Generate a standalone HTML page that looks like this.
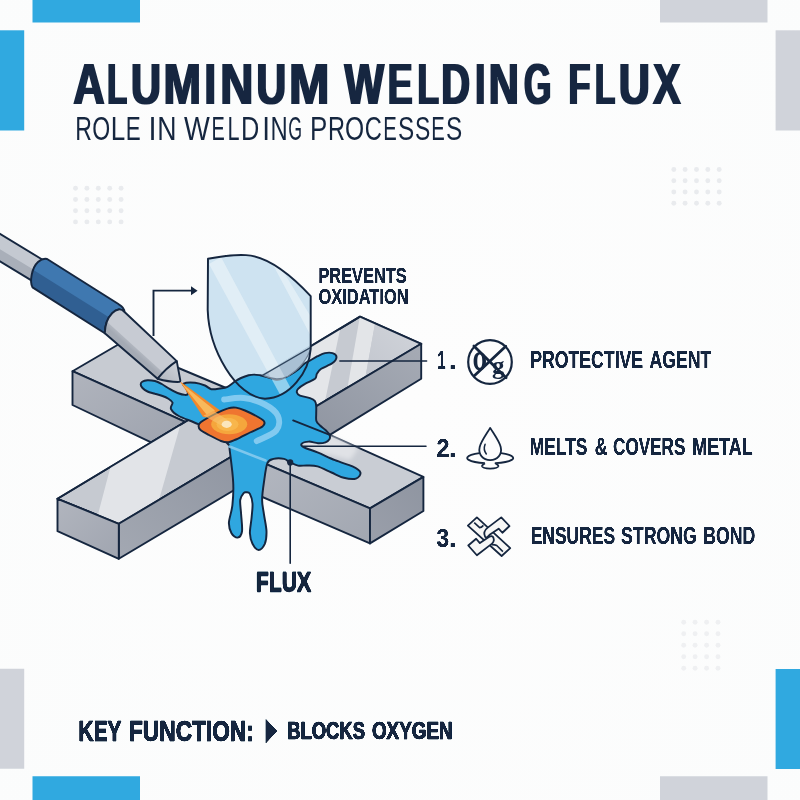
<!DOCTYPE html>
<html>
<head>
<meta charset="utf-8">
<title>Aluminum Welding Flux</title>
<style>
html,body{margin:0;padding:0;width:800px;height:800px;overflow:hidden;background:#fcfcfd;}
svg{position:absolute;left:0;top:0;display:block;will-change:transform;}
text{font-family:"Liberation Sans",sans-serif;fill:#15263f;}
.b{font-weight:bold;}
</style>
</head>
<body>
<svg width="800" height="800" viewBox="0 0 800 800">
<defs>
<filter id="fSemi" x="-2%" y="-2%" width="104%" height="104%"><feGaussianBlur stdDeviation="0.55 0"/><feComponentTransfer><feFuncA type="linear" slope="2.6" intercept="-0.3"/></feComponentTransfer></filter>
<filter id="fBold" x="-2%" y="-10%" width="104%" height="120%"><feMorphology operator="dilate" radius="1 0"/></filter>
<radialGradient id="bg" cx="50%" cy="50%" r="75%">
<stop offset="0" stop-color="#fdfdfd"/>
<stop offset="1" stop-color="#fbfcfc"/>
</radialGradient>
<!--ILLDEFS-->
<filter id="fSoft" x="-20%" y="-20%" width="140%" height="140%"><feGaussianBlur stdDeviation="2"/></filter>
<linearGradient id="gTopR" x1="0" y1="1" x2="1" y2="0"><stop offset="0" stop-color="#c2c6ce"/><stop offset="1" stop-color="#d2d5db"/></linearGradient>
<linearGradient id="gF1a" x1="0" y1="1" x2="1" y2="0"><stop offset="0" stop-color="#a3a8b2"/><stop offset="1" stop-color="#8f95a1"/></linearGradient>
<linearGradient id="gF1b" x1="0" y1="1" x2="1" y2="0"><stop offset="0" stop-color="#8e94a0"/><stop offset="1" stop-color="#a6abb5"/></linearGradient>
<linearGradient id="gF2" x1="0" y1="0" x2="1" y2="1"><stop offset="0" stop-color="#b0b4bd"/><stop offset="1" stop-color="#9ea3ae"/></linearGradient>
<linearGradient id="gF3" x1="0" y1="0" x2="1" y2="1"><stop offset="0" stop-color="#b4b8c1"/><stop offset="1" stop-color="#a2a7b1"/></linearGradient>
<linearGradient id="gEnd1" x1="0" y1="0" x2="1" y2="1"><stop offset="0" stop-color="#b1b5be"/><stop offset="1" stop-color="#a0a5b0"/></linearGradient>
<linearGradient id="gEnd2" x1="0" y1="1" x2="1" y2="0"><stop offset="0" stop-color="#9a9faa"/><stop offset="1" stop-color="#8f95a1"/></linearGradient>

<clipPath id="cTop1"><polygon points="57.5,498.75 118.75,523.75 421.25,343.75 360,316.6"/></clipPath>
<radialGradient id="gSpot" cx="229" cy="424.5" r="18" gradientUnits="userSpaceOnUse" gradientTransform="translate(229 424.5) scale(1 0.58) translate(-229 -424.5)"><stop offset="0" stop-color="#f7b548"/><stop offset="0.85" stop-color="#f5a23a"/><stop offset="1" stop-color="#f0762e"/></radialGradient>
<linearGradient id="gRodL" x1="0" y1="0" x2="1" y2="0"><stop offset="0" stop-color="#c3c8d0"/><stop offset="1" stop-color="#cdd1d8"/></linearGradient>
<clipPath id="cRod"><path d="M124.3 311.8 C118 304 105 316 104.8 333.2 L157.6 378.75 L176.75 361.1 Z"/></clipPath>
<linearGradient id="gRodD" gradientUnits="userSpaceOnUse" x1="134" y1="342" x2="129" y2="347.5"><stop offset="0" stop-color="#c7cbd3"/><stop offset="0.35" stop-color="#b3b8c1"/><stop offset="1" stop-color="#a4aab4"/></linearGradient>
<linearGradient id="gCone" gradientUnits="userSpaceOnUse" x1="176" y1="366" x2="164" y2="381"><stop offset="0" stop-color="#cbcfd6"/><stop offset="1" stop-color="#b4b9c2"/></linearGradient>
<clipPath id="cSh"><path d="M208 258.8 C222 256 236 254.6 246 255.1 C268 256.5 290 274 310.7 296.2 L310.7 349 C309 372 290 398 265 398.8 C236 397 209 350 207.7 310 Z"/></clipPath>
<clipPath id="cRim"><path d="M262.5 375.4 L312 346.6 L311 347.5 C307 362 298 370 288 376.2 C280 380 272 379.5 263.75 375.6 Z"/></clipPath>
<!--/ILLDEFS-->
</defs>
<rect width="800" height="800" fill="url(#bg)"/>

<!-- corner blocks -->
<g id="corners">
<rect x="32.5" y="0" width="107.5" height="22.5" fill="#30a9e0"/>
<rect x="0" y="30.3" width="24.2" height="100.2" fill="#30a9e0"/>
<rect x="660" y="0" width="107.5" height="22.5" fill="#d0d3da"/>
<rect x="775.6" y="30.3" width="24.4" height="100.2" fill="#d0d3da"/>
<rect x="0" y="668.75" width="24.2" height="100" fill="#d0d3da"/>
<rect x="32.5" y="776.25" width="107.5" height="23.75" fill="#30a9e0"/>
<rect x="775.6" y="669" width="24.4" height="100" fill="#30a9e0"/>
<rect x="660" y="776.25" width="107.5" height="23.75" fill="#d0d3da"/>
</g>

<!-- dot grids -->
<g id="dots">
<circle cx="75.5" cy="188.3" r="2.45" fill="#e9ebee"/>
<circle cx="86.9" cy="188.3" r="2.45" fill="#e9ebee"/>
<circle cx="98.3" cy="188.3" r="2.45" fill="#e9ebee"/>
<circle cx="109.7" cy="188.3" r="2.45" fill="#e9ebee"/>
<circle cx="121.1" cy="188.3" r="2.45" fill="#e9ebee"/>
<circle cx="75.5" cy="199.5" r="2.45" fill="#e9ebee"/>
<circle cx="86.9" cy="199.5" r="2.45" fill="#e9ebee"/>
<circle cx="98.3" cy="199.5" r="2.45" fill="#e9ebee"/>
<circle cx="109.7" cy="199.5" r="2.45" fill="#e9ebee"/>
<circle cx="121.1" cy="199.5" r="2.45" fill="#e9ebee"/>
<circle cx="75.5" cy="210.7" r="2.45" fill="#e9ebee"/>
<circle cx="86.9" cy="210.7" r="2.45" fill="#e9ebee"/>
<circle cx="98.3" cy="210.7" r="2.45" fill="#e9ebee"/>
<circle cx="109.7" cy="210.7" r="2.45" fill="#e9ebee"/>
<circle cx="121.1" cy="210.7" r="2.45" fill="#e9ebee"/>
<circle cx="75.5" cy="221.9" r="2.45" fill="#e9ebee"/>
<circle cx="86.9" cy="221.9" r="2.45" fill="#e9ebee"/>
<circle cx="98.3" cy="221.9" r="2.45" fill="#e9ebee"/>
<circle cx="109.7" cy="221.9" r="2.45" fill="#e9ebee"/>
<circle cx="121.1" cy="221.9" r="2.45" fill="#e9ebee"/>
<circle cx="673.8" cy="169.5" r="2.45" fill="#e9ebee"/>
<circle cx="685.1" cy="169.5" r="2.45" fill="#e9ebee"/>
<circle cx="696.5" cy="169.5" r="2.45" fill="#e9ebee"/>
<circle cx="707.8" cy="169.5" r="2.45" fill="#e9ebee"/>
<circle cx="719.2" cy="169.5" r="2.45" fill="#e9ebee"/>
<circle cx="673.8" cy="180.8" r="2.45" fill="#e9ebee"/>
<circle cx="685.1" cy="180.8" r="2.45" fill="#e9ebee"/>
<circle cx="696.5" cy="180.8" r="2.45" fill="#e9ebee"/>
<circle cx="707.8" cy="180.8" r="2.45" fill="#e9ebee"/>
<circle cx="719.2" cy="180.8" r="2.45" fill="#e9ebee"/>
<circle cx="673.8" cy="192.0" r="2.45" fill="#e9ebee"/>
<circle cx="685.1" cy="192.0" r="2.45" fill="#e9ebee"/>
<circle cx="696.5" cy="192.0" r="2.45" fill="#e9ebee"/>
<circle cx="707.8" cy="192.0" r="2.45" fill="#e9ebee"/>
<circle cx="719.2" cy="192.0" r="2.45" fill="#e9ebee"/>
<circle cx="673.8" cy="203.3" r="2.45" fill="#e9ebee"/>
<circle cx="685.1" cy="203.3" r="2.45" fill="#e9ebee"/>
<circle cx="696.5" cy="203.3" r="2.45" fill="#e9ebee"/>
<circle cx="707.8" cy="203.3" r="2.45" fill="#e9ebee"/>
<circle cx="719.2" cy="203.3" r="2.45" fill="#e9ebee"/>
<circle cx="683.7" cy="622.2" r="2.45" fill="#eff0f2"/>
<circle cx="695.1" cy="622.2" r="2.45" fill="#eff0f2"/>
<circle cx="706.6" cy="622.2" r="2.45" fill="#eff0f2"/>
<circle cx="718.0" cy="622.2" r="2.45" fill="#eff0f2"/>
<circle cx="683.7" cy="633.7" r="2.45" fill="#eff0f2"/>
<circle cx="695.1" cy="633.7" r="2.45" fill="#eff0f2"/>
<circle cx="706.6" cy="633.7" r="2.45" fill="#eff0f2"/>
<circle cx="718.0" cy="633.7" r="2.45" fill="#eff0f2"/>
<circle cx="683.7" cy="645.2" r="2.45" fill="#eff0f2"/>
<circle cx="695.1" cy="645.2" r="2.45" fill="#eff0f2"/>
<circle cx="706.6" cy="645.2" r="2.45" fill="#eff0f2"/>
<circle cx="718.0" cy="645.2" r="2.45" fill="#eff0f2"/>
<circle cx="683.7" cy="656.7" r="2.45" fill="#eff0f2"/>
<circle cx="695.1" cy="656.7" r="2.45" fill="#eff0f2"/>
<circle cx="706.6" cy="656.7" r="2.45" fill="#eff0f2"/>
<circle cx="718.0" cy="656.7" r="2.45" fill="#eff0f2"/>
<circle cx="683.7" cy="668.2" r="2.45" fill="#eff0f2"/>
<circle cx="695.1" cy="668.2" r="2.45" fill="#eff0f2"/>
<circle cx="706.6" cy="668.2" r="2.45" fill="#eff0f2"/>
<circle cx="718.0" cy="668.2" r="2.45" fill="#eff0f2"/>
</g>

<!-- title -->
<g id="title">
<g filter="url(#fBold)">
<text class="b" font-size="57.3" transform="translate(73.32 103.75) scale(0.7596 1)">A</text>
<text class="b" font-size="57.3" transform="translate(107.34 103.75) scale(0.5645 1)">L</text>
<text class="b" font-size="57.3" transform="translate(130.91 103.75) scale(0.7244 1)">U</text>
<text class="b" font-size="57.3" transform="translate(163.39 103.75) scale(0.7850 1)">M</text>
<text class="b" font-size="57.3" transform="translate(204.39 103.75) scale(0.7209 1)">I</text>
<text class="b" font-size="57.3" transform="translate(220.33 103.75) scale(0.8000 1)">N</text>
<text class="b" font-size="57.3" transform="translate(256.43 103.75) scale(0.7172 1)">U</text>
<text class="b" font-size="57.3" transform="translate(288.90 103.75) scale(0.8474 1)">M</text>
<text class="b" font-size="57.3" transform="translate(344.61 103.75) scale(0.7310 1)">W</text>
<text class="b" font-size="57.3" transform="translate(387.71 103.75) scale(0.6501 1)">E</text>
<text class="b" font-size="57.3" transform="translate(417.55 103.75) scale(0.6121 1)">L</text>
<text class="b" font-size="57.3" transform="translate(441.23 103.75) scale(0.6958 1)">D</text>
<text class="b" font-size="57.3" transform="translate(475.24 103.75) scale(0.6300 1)">I</text>
<text class="b" font-size="57.3" transform="translate(488.81 103.75) scale(0.7273 1)">N</text>
<text class="b" font-size="57.3" transform="translate(523.96 103.75) scale(0.6129 1)">G</text>
<text class="b" font-size="57.3" transform="translate(568.50 103.75) scale(0.6261 1)">F</text>
<text class="b" font-size="57.3" transform="translate(594.94 103.75) scale(0.5764 1)">L</text>
<text class="b" font-size="57.3" transform="translate(618.81 103.75) scale(0.7535 1)">U</text>
<text class="b" font-size="57.3" transform="translate(653.04 103.75) scale(0.7242 1)">X</text>
</g>
<text font-size="32.5" transform="translate(75.21 139.7) scale(0.7100 1)">R</text>
<text font-size="32.5" transform="translate(92.16 139.7) scale(0.7099 1)">O</text>
<text font-size="32.5" transform="translate(110.76 139.7) scale(0.8025 1)">L</text>
<text font-size="32.5" transform="translate(125.76 139.7) scale(0.6898 1)">E</text>
<text font-size="32.5" transform="translate(148.53 139.7) scale(0.8908 1)">I</text>
<text font-size="32.5" transform="translate(157.31 139.7) scale(0.8207 1)">N</text>
<text font-size="32.5" transform="translate(184.08 139.7) scale(0.8415 1)">W</text>
<text font-size="32.5" transform="translate(211.57 139.7) scale(0.6131 1)">E</text>
<text font-size="32.5" transform="translate(227.42 139.7) scale(0.6664 1)">L</text>
<text font-size="32.5" transform="translate(241.12 139.7) scale(0.7793 1)">D</text>
<text font-size="32.5" transform="translate(262.23 139.7) scale(0.8578 1)">I</text>
<text font-size="32.5" transform="translate(270.55 139.7) scale(0.7326 1)">N</text>
<text font-size="32.5" transform="translate(288.31 139.7) scale(0.5467 1)">G</text>
<text font-size="32.5" transform="translate(310.07 139.7) scale(0.7978 1)">P</text>
<text font-size="32.5" transform="translate(328.07 139.7) scale(0.7255 1)">R</text>
<text font-size="32.5" transform="translate(345.03 139.7) scale(0.7573 1)">O</text>
<text font-size="32.5" transform="translate(364.80 139.7) scale(0.7288 1)">C</text>
<text font-size="32.5" transform="translate(383.34 139.7) scale(0.6245 1)">E</text>
<text font-size="32.5" transform="translate(397.90 139.7) scale(0.7483 1)">S</text>
<text font-size="32.5" transform="translate(414.96 139.7) scale(0.7055 1)">S</text>
<text font-size="32.5" transform="translate(431.34 139.7) scale(0.6245 1)">E</text>
<text font-size="32.5" transform="translate(445.90 139.7) scale(0.7483 1)">S</text>
</g>

<!-- illustration -->
<g id="illus">
<polygon points="72.5,371.2 120.0,343.5 250.0,398.0 185.2,421.9" fill="#c7cbd2" stroke="#15263f" stroke-width="1.9" stroke-linejoin="round"/>
<polygon points="72.5,371.2 185.2,421.9 151.1,442.4 72.5,405.0" fill="url(#gF2)" stroke="#15263f" stroke-width="1.9" stroke-linejoin="round"/>
<polygon points="240.0,453.0 370.0,508.4 423.4,476.9 329.8,434.9 270.0,410.0" fill="#c9cdd4" stroke="#15263f" stroke-width="1.9" stroke-linejoin="round"/>
<polygon points="296.0,440.0 333.0,436.5 358.0,449.0 350.0,460.0 318.0,452.0" fill="#e0e2e6" filter="url(#fSoft)"/>
<polygon points="245.0,455.0 370.0,508.4 370.0,543.4 245.0,489.5" fill="url(#gF3)" stroke="#15263f" stroke-width="1.9" stroke-linejoin="round"/>
<polygon points="370.0,508.4 423.4,476.9 423.4,511.0 370.0,543.4" fill="url(#gEnd2)" stroke="#15263f" stroke-width="1.9" stroke-linejoin="round"/>
<polygon points="57.5,498.8 118.8,523.8 421.2,343.8 360.0,316.6" fill="#c6cad1" stroke="#15263f" stroke-width="1.9" stroke-linejoin="round"/>
<g clip-path="url(#cTop1)">
<polygon points="111.5,463.0 181.5,421.0 155.0,514.0 150.0,545.0 92.0,545.0 96.0,522.0" fill="#e2e4e8"/>
<polygon points="255.0,372.0 341.2,324.0 324.4,404.0 255.0,440.0" fill="#e4e6e9"/>
<polygon points="360.3,314.0 375.2,322.5 365.0,379.5 347.1,390.0" fill="#e3e5e8"/>
<polygon points="375.2,322.5 424.0,343.0 424.0,346.0 365.0,379.5" fill="url(#gTopR)"/>
</g>
<polygon points="57.5,498.8 118.8,523.8 421.2,343.8 360.0,316.6" fill="none" stroke="#15263f" stroke-width="1.9" stroke-linejoin="round"/>
<polygon points="118.8,523.8 246.0,448.0 246.0,483.0 118.8,558.8" fill="url(#gF1a)" stroke="#15263f" stroke-width="1.9" stroke-linejoin="round"/>
<polygon points="300.0,415.9 421.2,343.8 421.2,378.8 329.8,434.9 322.0,439.5 300.0,440.0" fill="url(#gF1b)" stroke="#15263f" stroke-width="1.9" stroke-linejoin="round"/>
<polygon points="57.5,498.8 118.8,523.8 118.8,558.8 57.5,531.2" fill="url(#gEnd1)" stroke="#15263f" stroke-width="1.9" stroke-linejoin="round"/>
<path d="M208 258.8 C222 256 236 254.6 246 255.1 C268 256.5 290 274 310.7 296.2 L310.7 349 C309 372 290 398 265 398.8 C236 397 209 350 207.7 310 Z" fill="#c9e0f0" fill-opacity="0.9"/>
<path d="M140.7 384.5 C140.7 383.5 141.1 382.5 142.2 381.8 C143.4 381.0 145.4 380.4 147.5 380.2 C149.6 380.1 152.6 380.4 155.0 381.0 C157.4 381.6 159.2 382.6 161.8 384.0 C164.2 385.4 167.4 387.8 170.0 389.2 C172.6 390.8 175.0 392.1 177.5 393.0 C180.0 393.9 183.2 394.8 185.0 394.9 C186.8 395.0 187.8 394.6 188.0 393.5 C188.2 392.4 186.7 389.6 186.0 388.0 C185.3 386.4 182.1 384.5 183.6 383.6 C185.1 382.7 191.4 382.4 195.0 382.7 C198.6 383.0 202.3 384.4 205.0 385.5 C207.7 386.6 208.8 388.7 211.3 389.2 C213.8 389.7 217.3 388.9 220.0 388.5 C222.7 388.1 224.9 388.1 227.5 386.8 C230.1 385.6 233.3 382.5 235.6 381.0 C237.8 379.5 238.8 379.0 241.0 378.0 C243.2 377.0 246.4 375.8 248.6 375.2 C250.8 374.7 252.1 374.6 254.0 374.6 C255.9 374.6 257.9 374.9 260.0 375.2 C262.1 375.6 264.0 376.2 266.5 376.9 C269.0 377.6 272.5 379.1 275.0 379.5 C277.5 379.9 278.8 379.8 281.2 379.0 C283.8 378.2 287.3 376.5 290.0 375.0 C292.7 373.5 295.2 371.8 297.5 370.0 C299.8 368.2 302.1 365.5 304.0 364.0 C305.9 362.5 306.5 362.5 308.8 361.2 C311.0 360.0 314.8 357.6 317.5 356.2 C320.2 354.9 322.5 353.6 325.0 353.1 C327.5 352.6 330.6 352.5 332.5 353.1 C334.4 353.7 336.5 355.2 336.5 356.9 C336.5 358.6 335.0 361.1 332.5 363.1 C330.0 365.1 323.9 367.0 321.2 368.8 C318.6 370.5 317.9 372.1 316.9 373.8 C315.9 375.4 317.0 377.1 315.0 378.8 C313.0 380.4 307.8 382.1 305.0 383.8 C302.2 385.4 299.5 387.3 298.1 388.8 C296.8 390.2 296.6 391.4 296.9 392.5 C297.2 393.6 297.8 394.7 300.0 395.6 C302.2 396.5 307.5 397.2 310.0 398.1 C312.5 399.0 314.0 399.9 315.0 401.2 C316.0 402.6 316.1 404.1 316.2 406.2 C316.4 408.4 316.2 411.5 316.2 414.0 C316.2 416.5 315.8 419.1 316.4 421.0 C317.0 422.9 318.5 424.0 320.0 425.5 C321.5 427.0 323.9 428.4 325.5 430.0 C327.1 431.6 329.0 433.5 329.6 435.0 C330.2 436.5 330.1 438.0 329.4 439.2 C328.7 440.4 327.4 441.6 325.5 442.3 C323.6 443.0 320.8 443.3 318.0 443.2 C315.2 443.1 311.5 441.5 308.8 441.6 C306.0 441.7 302.6 442.7 301.8 443.6 C300.9 444.5 300.9 445.6 303.5 447.1 C306.1 448.6 312.2 450.2 317.5 452.4 C322.8 454.6 329.2 457.9 335.0 460.2 C340.8 462.6 348.3 464.4 352.5 466.4 C356.7 468.4 359.8 470.5 360.4 472.5 C361.0 474.5 358.8 477.7 356.0 478.6 C353.2 479.5 347.8 478.8 343.8 477.8 C339.7 476.7 335.9 474.4 331.5 472.5 C327.1 470.6 321.6 467.6 317.5 466.4 C313.4 465.2 310.2 465.6 307.0 465.5 C303.8 465.4 300.8 466.1 298.0 465.6 C295.2 465.1 292.3 463.5 290.0 462.4 C287.7 461.3 286.8 459.5 284.0 458.9 C281.2 458.3 276.3 458.2 273.5 458.9 C270.7 459.6 269.0 459.3 267.4 463.2 C265.8 467.2 264.8 476.4 263.9 482.5 C263.0 488.6 262.1 494.8 262.1 500.0 C262.1 505.2 263.2 508.8 263.9 514.0 C264.6 519.2 266.4 526.5 266.5 531.5 C266.6 536.5 266.1 540.7 264.8 543.8 C263.4 546.8 260.6 549.9 258.6 549.9 C256.6 549.9 253.9 546.5 252.5 543.8 C251.1 541.0 250.1 537.6 249.9 533.2 C249.8 528.9 251.2 522.5 251.6 517.5 C252.0 512.5 252.8 507.4 252.5 503.5 C252.2 499.6 250.9 495.8 249.9 493.9 C248.9 492.0 247.5 492.4 246.5 492.3 C245.5 492.2 244.8 491.7 243.8 493.0 C242.7 494.3 240.7 496.5 240.2 500.0 C239.8 503.5 240.8 508.8 241.1 514.0 C241.4 519.2 242.6 527.6 242.0 531.5 C241.4 535.4 239.3 537.3 237.6 537.6 C235.8 537.9 232.9 535.7 231.5 533.2 C230.1 530.8 228.8 527.4 228.9 522.8 C229.1 518.1 231.7 512.0 232.4 505.2 C233.1 498.5 233.7 491.5 233.2 482.5 C232.8 473.5 230.6 457.4 229.8 451.0 C228.9 444.6 230.5 446.8 228.0 444.0 C225.5 441.2 219.9 437.3 215.0 434.0 C210.1 430.7 204.3 427.2 198.3 424.2 C192.3 421.2 183.4 418.5 178.8 416.0 C174.2 413.5 172.1 411.2 171.0 409.0 C169.9 406.8 173.0 404.2 172.5 402.5 C172.0 400.8 169.7 399.6 168.0 398.5 C166.3 397.4 164.7 396.8 162.5 396.0 C160.3 395.2 157.5 394.5 155.0 393.8 C152.5 393.0 149.6 392.5 147.5 391.5 C145.4 390.5 143.6 389.2 142.5 388.0 C141.4 386.8 140.7 385.5 140.7 384.5 Z" fill="#2fa7e0" stroke="#15263f" stroke-width="1.95" stroke-linejoin="round"/>
<path d="M224.2 399.6 C227.5 399.3 237.0 397.2 243.8 398.0 C250.5 398.8 259.2 401.5 264.9 404.5 C270.6 407.5 276.0 411.6 277.9 415.9 C279.8 420.2 279.8 426.3 276.2 430.5 C272.7 434.7 260.0 439.2 256.8 441.0" fill="none" stroke="#8acdf1" stroke-width="6" stroke-linecap="round" opacity="0.92"/>
<line x1="229.5" y1="446.5" x2="265.5" y2="460.5" stroke="#86cbef" stroke-width="2.6" stroke-linecap="round" opacity="0.9"/>
<line x1="293.1" y1="420.4" x2="329.8" y2="434.9" stroke="#15263f" stroke-width="1.8" stroke-linecap="round"/>
<polygon points="179.6,381.1 203.1,416.9 212.0,418.0 220.2,410.4" fill="#f2882b"/>
<polygon points="181.5,383.6 206.5,414.5 215.0,410.5" fill="#f8b95c"/>
<path d="M198.6 426.0 C198.7 424.7 198.4 423.9 201.0 422.0 C203.6 420.1 209.5 416.8 214.0 414.5 C218.5 412.2 224.3 409.5 228.0 408.4 C231.7 407.2 233.2 407.2 236.0 407.6 C238.8 408.0 241.3 408.9 245.0 410.5 C248.7 412.1 254.8 415.1 258.0 417.0 C261.2 418.9 263.4 420.0 264.2 421.6 C264.9 423.2 264.9 424.7 262.5 426.5 C260.1 428.3 254.4 430.3 250.0 432.5 C245.6 434.7 239.6 437.9 236.0 439.5 C232.4 441.1 231.0 441.9 228.5 442.2 C226.0 442.4 224.2 442.2 221.0 441.0 C217.8 439.8 212.4 436.8 209.0 435.0 C205.6 433.2 202.2 431.5 200.5 430.0 C198.8 428.5 198.5 427.3 198.6 426.0 Z" fill="#ef7530" stroke="#15263f" stroke-width="1.95" stroke-linejoin="round"/>
<ellipse cx="229.2" cy="424.3" rx="18" ry="10" fill="#f5a63c"/>
<ellipse cx="227.5" cy="424.3" rx="11" ry="6.6" fill="#f8b84e" opacity="0.9"/>
<polygon points="203.5,415.5 214.0,411.0 229.0,421.0 224.0,427.0" fill="#f9c471" opacity="0.6"/>
<ellipse cx="226.7" cy="424.3" rx="5" ry="3.6" fill="#fbe6bd"/>
<polygon points="-3.0,232.0 43.0,260.0 33.0,281.4 -3.0,259.6" fill="#c4c9d1"/>
<polygon points="-3.0,247.4 35.0,270.6 33.0,281.4 -3.0,259.6" fill="#a9afb9"/>
<line x1="-3.0" y1="232.0" x2="43.0" y2="260.0" stroke="#15263f" stroke-width="1.9" stroke-linecap="round"/>
<line x1="-3.0" y1="259.6" x2="33.0" y2="281.4" stroke="#15263f" stroke-width="1.9" stroke-linecap="round"/>
<path d="M47.1 259 L118.8 304.3 C122.5 306.5 124.5 309 124.3 311.8 C118 304 105 316 104.8 333.2 L32.5 287.4 C29.5 282 31.5 268 38 262 Q42.5 258 47.1 259 Z" fill="#3f78b0"/>
<path d="M33.5 270 L108.5 317 C106.3 322 105.2 327.5 104.8 333.2 L32.5 287.4 C30.5 283 31.3 275 33.5 270 Z" fill="#305f92"/>
<path d="M47.1 259 L118.8 304.3 C122.5 306.5 124.5 309 124.3 311.8 C118 304 105 316 104.8 333.2 L32.5 287.4 C29.5 282 31.5 268 38 262 Q42.5 258 47.1 259 Z" fill="none" stroke="#15263f" stroke-width="1.95" stroke-linejoin="round"/>
<path d="M124.3 311.8 C118 304 105 316 104.8 333.2 L157.6 378.75 L176.75 361.1 Z" fill="#c7cbd3"/>
<polygon points="104.0,319.0 163.0,372.4 157.6,378.8 100.0,333.2" fill="url(#gRodD)" clip-path="url(#cRod)"/>
<path d="M124.3 311.8 C118 304 105 316 104.8 333.2 L157.6 378.75 L176.75 361.1 Z" fill="none" stroke="#15263f" stroke-width="1.95" stroke-linejoin="round"/>
<path d="M176.75 361.1 Q166.5 367.5 157.6 378.75 Q170 382.3 179.4 381.9 Q180.6 381.6 180.3 380.3 Z" fill="url(#gCone)" stroke="#15263f" stroke-width="1.9" stroke-linejoin="round"/>
<g clip-path="url(#cSh)">
<polygon points="209.0,264.0 221.0,257.0 297.0,400.0 283.0,400.0" fill="#f4f9fc" opacity="0.5"/>
<polygon points="271.0,261.0 283.0,271.0 314.0,322.0 314.0,342.0" fill="#f4f9fc" opacity="0.5"/>
<path d="M262.5 375.4 L312 346.6 L311 347.5 C307 362 298 370 288 376.2 C280 380 272 379.5 263.75 375.6 Z" fill="#a9c0d4"/>
<polygon points="209.0,264.0 221.0,257.0 297.0,400.0 283.0,400.0" fill="#f4f9fc" opacity="0.35" clip-path="url(#cRim)"/>
<line x1="262.5" y1="375.4" x2="312.0" y2="346.6" stroke="#31465f" stroke-width="1.3" stroke-linecap="round"/>
<path d="M263.75 375.6 C272 379.5 280 380 288 376.2 C298 370 307 362 311 347.5" fill="none" stroke="#6f8195" stroke-width="1.2"/>
</g>
<path d="M208 258.8 C222 256 236 254.6 246 255.1 C268 256.5 290 274 310.7 296.2 L310.7 349 C309 372 290 398 265 398.8 C236 397 209 350 207.7 310 Z" fill="none" stroke="#15263f" stroke-width="1.95" stroke-linejoin="round"/>
<path d="M153.5 336 L153.5 290.6 L192 290.6" fill="none" stroke="#15263f" stroke-width="1.9"/>
<path d="M191 286.3 L197.6 290.75 L191 295.2 Z" fill="#15263f"/>
<line x1="339.9" y1="361.0" x2="426.6" y2="361.0" stroke="#15263f" stroke-width="1.5" stroke-linecap="round"/>
<line x1="303.5" y1="446.2" x2="426.0" y2="446.2" stroke="#15263f" stroke-width="1.5" stroke-linecap="round"/>
<line x1="290.2" y1="462.4" x2="290.2" y2="563.2" stroke="#15263f" stroke-width="1.6" stroke-linecap="round"/>
<circle cx="290.2" cy="462.4" r="3.1" fill="#15263f"/>
</g>

<!-- labels -->
<g id="labels" filter="url(#fSemi)">
<text class="b" font-size="21.20" transform="translate(318.40 282.60) scale(0.7739 1)">PREVENTS</text>
<text class="b" font-size="21.20" transform="translate(318.42 304.00) scale(0.7776 1)">OXIDATION</text>
<text class="b" font-size="25.8" transform="translate(437.59 368.75) scale(0.5622 1)">1</text>
<text class="b" font-size="25.8" transform="translate(448.95 368.75) scale(1.0300 1)">.</text>
<text class="b" font-size="24.00" transform="translate(530.22 367.60) scale(0.7367 1)">PROTECTIVE</text>
<text class="b" font-size="24.00" transform="translate(649.56 367.60) scale(0.7367 1)">AGENT</text>
<text class="b" font-size="26" transform="translate(436.44 456.75) scale(0.8987 1)">2</text>
<text class="b" font-size="26" transform="translate(448.95 456.75) scale(1.0221 1)">.</text>
<text class="b" font-size="24.00" transform="translate(529.84 455.00) scale(0.7235 1)">MELTS</text>
<text class="b" font-size="24.00" transform="translate(594.83 455.00) scale(0.7342 1)">&amp;</text>
<text class="b" font-size="24.00" transform="translate(613.05 455.00) scale(0.7135 1)">COVERS</text>
<text class="b" font-size="24.00" transform="translate(692.20 455.00) scale(0.7471 1)">METAL</text>
<text class="b" font-size="26" transform="translate(436.48 546.7) scale(0.8705 1)">3</text>
<text class="b" font-size="26" transform="translate(448.95 546.7) scale(1.0221 1)">.</text>
<text class="b" font-size="24.00" transform="translate(530.73 543.75) scale(0.7270 1)">ENSURES</text>
<text class="b" font-size="24.00" transform="translate(621.09 543.75) scale(0.7364 1)">STRONG</text>
<text class="b" font-size="24.00" transform="translate(703.22 543.75) scale(0.7347 1)">BOND</text>
<text class="b" font-size="27.44" stroke="#15263f" stroke-width="0.8" stroke-linejoin="miter" transform="translate(255.89 591.40) scale(0.7711 1)">FLUX</text>
<text class="b" font-size="28.98" stroke="#15263f" stroke-width="0.7" stroke-linejoin="miter" transform="translate(78.61 740.55) scale(0.7195 1)">KEY</text>
<text class="b" font-size="28.98" stroke="#15263f" stroke-width="0.7" stroke-linejoin="miter" transform="translate(129.01 740.55) scale(0.7831 1)">FUNCTION:</text>
<text class="b" font-size="24.58" stroke="#15263f" stroke-width="0.7" stroke-linejoin="miter" transform="translate(287.13 738.55) scale(0.7499 1)">BLOCKS</text>
<text class="b" font-size="24.58" stroke="#15263f" stroke-width="0.7" stroke-linejoin="miter" transform="translate(371.89 738.55) scale(0.7678 1)">OXYGEN</text>
<path d="M265.75 719 L277 731 L265.75 743.3 Z" fill="#15263f"/>
</g>

<g id="icons">
<circle cx="490" cy="362" r="21.8" fill="none" stroke="#15263f" stroke-width="2.2"/>
<path d="M479.8 352.1 C483.6 352.1 486 355.8 486 361.2 C486 366.6 483.6 370.3 479.8 370.3 C476 370.3 473.6 366.6 473.6 361.2 C473.6 355.8 476 352.1 479.8 352.1 Z M479.8 354.6 C478 354.6 477.3 357.3 477.3 361.2 C477.3 365.1 478 367.8 479.8 367.8 C481.6 367.8 482.3 365.1 482.3 361.2 C482.3 357.3 481.6 354.6 479.8 354.6 Z" fill="#15263f" fill-rule="evenodd"/>
<text x="492" y="374.4" font-size="25" style="font-family:'Liberation Serif',serif;font-weight:bold" fill="#15263f">g</text>
<line x1="473.9" y1="345.9" x2="506.1" y2="377.8" stroke="#15263f" stroke-width="2.8" stroke-linecap="round"/>
<line x1="505.8" y1="346.2" x2="474.6" y2="375.5" stroke="#15263f" stroke-width="2.8" stroke-linecap="round"/>
<path d="M484.9 463.2 A23 5.4 0 1 1 495.5 463.2 C497 464.5 498.6 465 498.4 466.2 C498 468.3 493 468.6 490.2 468.6 C487.4 468.6 482.4 468.3 482 466.2 C481.8 465 483.4 464.5 484.9 463.2" fill="none" stroke="#15263f" stroke-width="1.8" stroke-linejoin="round"/>
<path d="M490.2 427.9 C487 433.4 481.2 441 479.7 447 C478 454.5 483 460.1 490.2 460.1 C497.4 460.1 502.4 454.5 500.7 447 C499.2 441 493.4 433.4 490.2 427.9 Z" fill="#fcfcfd" stroke="#15263f" stroke-width="1.8" stroke-linejoin="round"/>
<path d="M485.1 444.2 C483.8 447.5 484.2 451.2 486.3 454" fill="none" stroke="#15263f" stroke-width="1.5" stroke-linecap="round"/>
<path d="M 476.88 517.38 L 467.88 525.63 L 501.63 556.00 L 510.25 548.13 Z" fill="#f7f7f6" stroke="#15263f" stroke-width="1.8" stroke-linejoin="round"/>
<path d="M 474.25 522.63 L 479.65 527.65 Q 481.38 527.65 483.40 525.40" fill="none" stroke="#15263f" stroke-width="1.6" stroke-linejoin="round"/>
<path d="M 491.88 544.60 Q 495.25 544.75 496.75 545.50 L 502.90 551.65" fill="none" stroke="#15263f" stroke-width="1.6" stroke-linejoin="round"/>
<path d="M 476.88 555.25 L 468.25 545.50 L 476.13 538.75 L 479.88 543.10 L 488.88 537.10 Q 493.00 534.63 493.75 538.75 Q 494.50 542.13 490.38 544.90 Z" fill="#f7f7f6" stroke="#15263f" stroke-width="1.8" stroke-linejoin="round"/>
<path d="M 501.25 517.38 L 509.50 526.00 L 502.38 532.75 L 498.63 528.63 L 490.00 534.40 Q 486.25 538.75 485.13 536.88 Q 482.50 531.63 487.75 527.65 Z" fill="#f7f7f6" stroke="#15263f" stroke-width="1.8" stroke-linejoin="round"/>
</g>
<!--/icons-->
</svg>
</body>
</html>
